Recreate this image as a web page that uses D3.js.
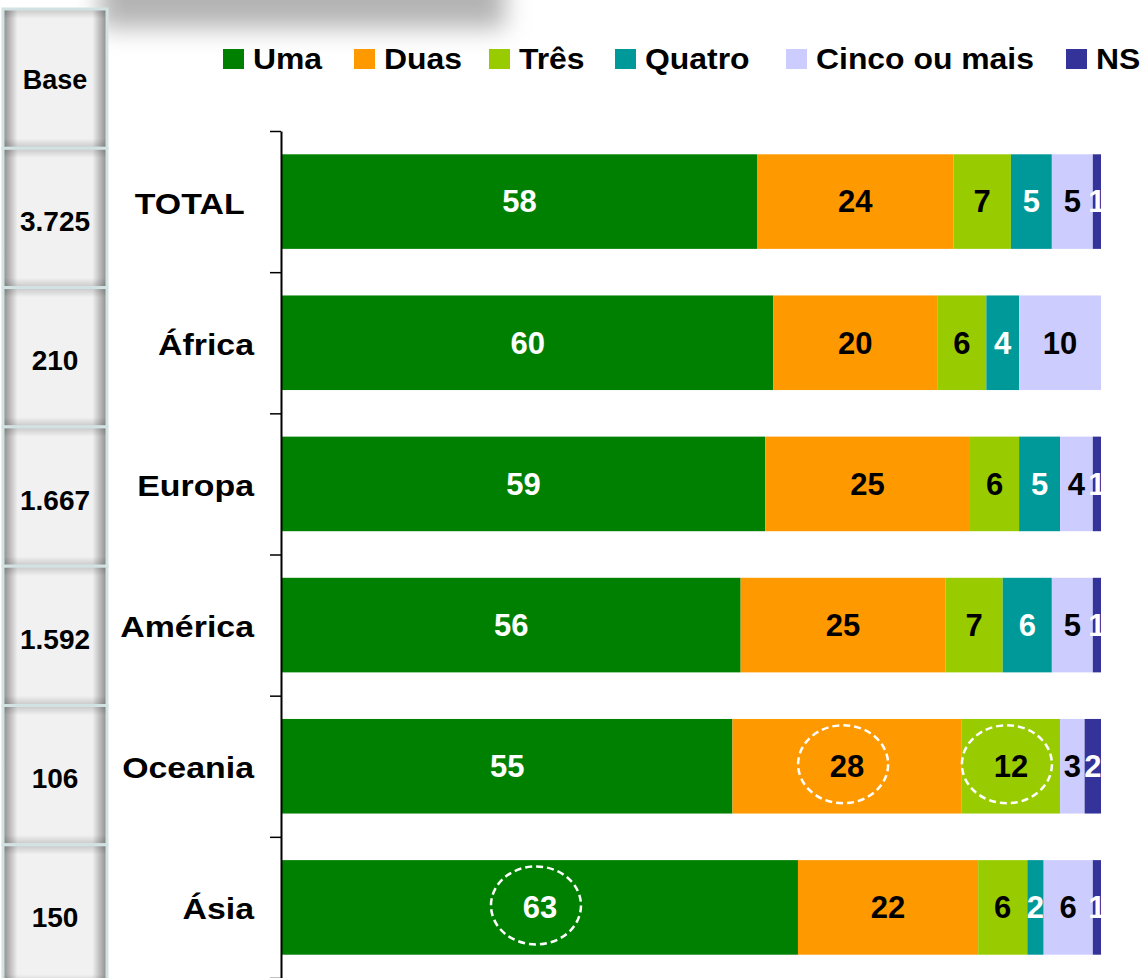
<!DOCTYPE html>
<html>
<head>
<meta charset="utf-8">
<script src="https://cdn.jsdelivr.net/npm/d3@7"></script>
<style>
  body { margin: 0; background: #fff; }
  text { font-family: "Liberation Sans", Arial, sans-serif; font-weight: bold; }
</style>
</head>
<body>
<div id="chart"></div>
<script>
// data
var categories = ["TOTAL\u00a0", "África", "Europa", "América", "Oceania", "Ásia"];
var bases = ["3.725", "210", "1.667", "1.592", "106", "150"];
var seriesNames = ["Uma", "Duas", "Três", "Quatro", "Cinco ou mais", "NS"];
var uma = [58, 60, 59, 56, 55, 63];
var duas = [24, 20, 25, 25, 28, 22];
var tres = [7, 6, 6, 7, 12, 6];
var quatro = [5, 4, 5, 6, 0, 2];
var cinco = [5, 10, 4, 5, 3, 6];
var ns = [1, 0, 1, 1, 2, 1];
var highlights = [
    {cat: "Oceania", key: "Duas"},
    {cat: "Oceania", key: "Três"},
    {cat: "Ásia", key: "Uma"}
];

var colors = ["#008000", "#FF9900", "#99CC00", "#009999", "#CCCCFF", "#333399"];
var labelColors = ["#fff", "#000", "#000", "#fff", "#000", "#fff"];
var legendX = [223, 354, 489, 615, 786, 1066];

var width = 1143, height = 978;

var rows = categories.map(function(c, i) {
    return {cat: c, "Uma": uma[i], "Duas": duas[i], "Três": tres[i],
            "Quatro": quatro[i], "Cinco ou mais": cinco[i], "NS": ns[i]};
});

var svg = d3.select("#chart").append("svg")
    .attr("width", width)
    .attr("height", height);

var defs = svg.append("defs");
defs.append("filter").attr("id", "blur")
    .attr("x", "-50%").attr("y", "-100%").attr("width", "200%").attr("height", "300%")
    .append("feGaussianBlur").attr("stdDeviation", 12);

var hGrad = defs.append("linearGradient").attr("id", "hgrad");
hGrad.append("stop").attr("offset", "0%").attr("stop-color", "#8a8a8a");
hGrad.append("stop").attr("offset", "14%").attr("stop-color", "#f1f1f1");
hGrad.append("stop").attr("offset", "86%").attr("stop-color", "#f1f1f1");
hGrad.append("stop").attr("offset", "100%").attr("stop-color", "#8a8a8a");

var vGrad = defs.append("linearGradient").attr("id", "vgrad")
    .attr("x1", 0).attr("y1", 0).attr("x2", 0).attr("y2", 1);
vGrad.append("stop").attr("offset", "0%").attr("stop-color", "#000").attr("stop-opacity", 0.18);
vGrad.append("stop").attr("offset", "7%").attr("stop-color", "#000").attr("stop-opacity", 0);
vGrad.append("stop").attr("offset", "93%").attr("stop-color", "#000").attr("stop-opacity", 0);
vGrad.append("stop").attr("offset", "100%").attr("stop-color", "#000").attr("stop-opacity", 0.18);

defs.append("clipPath").attr("id", "plotClip")
    .append("rect").attr("x", 282).attr("y", 0).attr("width", 1101 - 282).attr("height", height);

// shadow of the title box at the top
svg.append("rect")
    .attr("x", 100).attr("y", -40)
    .attr("width", 405).attr("height", 68)
    .attr("fill", "#b4b4b4")
    .attr("filter", "url(#blur)");

// base column
var cellScale = d3.scaleBand()
    .domain(["Base"].concat(categories))
    .range([9, 9 + 7 * 139.3]);

var cells = svg.append("g").selectAll("g").data(["Base"].concat(bases))
    .enter().append("g")
    .attr("transform", function(d, i) { return "translate(3," + cellScale(cellScale.domain()[i]) + ")"; });

cells.append("rect")
    .attr("width", 104).attr("height", cellScale.bandwidth())
    .attr("fill", "url(#hgrad)");
cells.append("rect")
    .attr("width", 104).attr("height", cellScale.bandwidth())
    .attr("fill", "url(#vgrad)")
    .attr("stroke", "#d2e2e2")
    .attr("stroke-width", 3);
cells.append("text")
    .attr("x", 52)
    .attr("y", function(d, i) { return cellScale.bandwidth() / 2 + (i == 0 ? 10 : 13); })
    .attr("text-anchor", "middle")
    .attr("font-size", function(d, i) { return i == 0 ? 27 : 28; })
    .text(function(d) { return d; });

// scales
var x = d3.scaleLinear().domain([0, 100]).range([282, 1101]);
var y = d3.scaleBand().domain(categories).range([131, 978])
    .paddingInner(0.33).paddingOuter(0.165);
var tickScale = d3.scaleLinear().domain([0, categories.length]).range([131, 978]);

var stacked = d3.stack().keys(seriesNames)(rows);

// bars
var layers = svg.append("g").selectAll("g").data(stacked)
    .enter().append("g")
    .attr("fill", function(d, i) { return colors[i]; });

layers.selectAll("rect").data(function(d) { return d; })
    .enter().append("rect")
    .attr("x", function(d) { return x(d[0]); })
    .attr("y", function(d) { return y(d.data.cat); })
    .attr("width", function(d) { return x(d[1]) - x(d[0]); })
    .attr("height", y.bandwidth());

// value labels
var labelGroup = svg.append("g").attr("clip-path", "url(#plotClip)");
stacked.forEach(function(layer, li) {
    labelGroup.selectAll(".lbl" + li).data(layer.filter(function(d) { return d[1] - d[0] > 0; }))
        .enter().append("text")
        .attr("class", "lbl" + li)
        .attr("x", function(d) { return (x(d[0]) + x(d[1])) / 2; })
        .attr("y", function(d) { return y(d.data.cat) + y.bandwidth() / 2; })
        .attr("dy", "0.35em")
        .attr("text-anchor", "middle")
        .attr("font-size", 31)
        .attr("fill", labelColors[li])
        .text(function(d) { return d[1] - d[0]; });
});

// dashed circles
svg.append("g").selectAll("ellipse").data(highlights)
    .enter().append("ellipse")
    .attr("cx", function(h) {
        var li = seriesNames.indexOf(h.key);
        var d = stacked[li][categories.indexOf(h.cat)];
        return (x(d[0]) + x(d[1])) / 2 - 4;
    })
    .attr("cy", function(h) { return y(h.cat) + y.bandwidth() / 2 - 2; })
    .attr("rx", 45)
    .attr("ry", 39)
    .attr("fill", "none")
    .attr("stroke", "#fff")
    .attr("stroke-width", 2.5)
    .attr("stroke-dasharray", "7,4");

// axis
var axis = svg.append("g")
    .attr("transform", "translate(281,0)")
    .call(d3.axisLeft(tickScale)
        .tickValues(d3.range(0, categories.length + 1))
        .tickFormat("")
        .tickSize(11)
        .tickSizeOuter(0));
axis.select(".domain").attr("stroke", "#000").attr("stroke-width", 2);
axis.selectAll(".tick line").attr("stroke", "#000").attr("stroke-width", 1.5);

// category labels (glyphs are a bit wide in the original)
svg.append("g").selectAll("text").data(categories)
    .enter().append("text")
    .attr("transform", function(d) {
        return "translate(254," + (y(d) + y.bandwidth() / 2 + 12) + ") scale(1.13,1)";
    })
    .attr("text-anchor", "end")
    .attr("font-size", 30)
    .text(function(d) { return d; });

// legend
var legend = svg.append("g").selectAll("g").data(seriesNames)
    .enter().append("g")
    .attr("transform", function(d, i) { return "translate(" + legendX[i] + ",49)"; });
legend.append("rect")
    .attr("width", 21).attr("height", 20)
    .attr("fill", function(d, i) { return colors[i]; });
legend.append("text")
    .attr("transform", "translate(30,20) scale(1.1,1)")
    .attr("font-size", 29)
    .text(function(d) { return d; });
</script>
</body>
</html>
